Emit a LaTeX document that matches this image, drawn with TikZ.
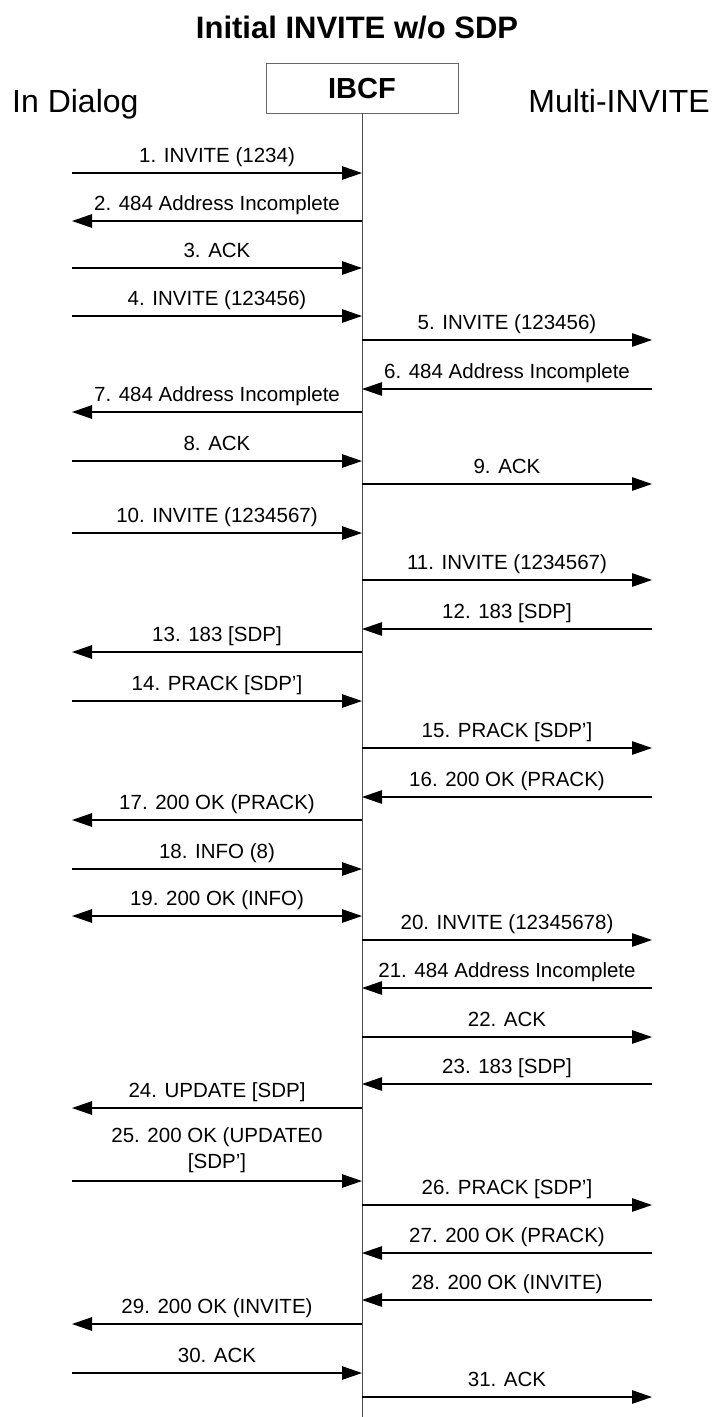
\documentclass[tikz,border=0pt]{standalone}
\usepackage{fontspec}
\setmainfont{Liberation Sans}
\usetikzlibrary{arrows.meta}
\tikzset{
  msg/.style={line width=1.1pt, black},
  fwd/.style={-{Triangle[length=20pt,width=13.5pt]}},
  bwd/.style={{Triangle[length=20pt,width=13.5pt]}-},
  bidi/.style={{Triangle[length=20pt,width=13.5pt]}-{Triangle[length=20pt,width=13.5pt]}},
  lbl/.style={font=\fontsize{20.5}{26}\selectfont, inner sep=0pt},
  actor/.style={font=\fontsize{32}{36}\selectfont, inner sep=0pt},
  lifeline/.style={line width=1pt, black!70},
}
\begin{document}
\begin{tikzpicture}[x=1pt,y=-1pt]
\useasboundingbox (0,0) rectangle (712,1417);
\node[font=\bfseries\fontsize{31}{34}\selectfont, anchor=base, inner sep=0pt] (title) at (357,38.5) {Initial INVITE w/o SDP};
\node[draw=black!60, line width=0.8pt, minimum width=192pt, minimum height=50pt, inner sep=0pt] (ibcf) at (362,88) {};
\node[font=\bfseries\fontsize{29}{34}\selectfont, anchor=base, inner sep=0pt] (ibcftext) at (362,98.5) {IBCF};
\node[actor, anchor=base west] (dialog) at (12,112) {In Dialog};
\node[actor, anchor=base east] (multi) at (710,112) {Multi-INVITE};
\coordinate (lifeend) at (362,1417);
\draw[lifeline] (ibcf.south) -- (lifeend);
\foreach \n/\y/\xa/\tip/\txt in {
  1/173/72/fwd/{1. INVITE (1234)},
  2/221/72/bwd/{2. 484 Address Incomplete},
  3/268/72/fwd/{3. ACK},
  4/316/72/fwd/{4. INVITE (123456)},
  5/340/362/fwd/{5. INVITE (123456)},
  6/389/362/bwd/{6. 484 Address Incomplete},
  7/412/72/bwd/{7. 484 Address Incomplete},
  8/461/72/fwd/{8. ACK},
  9/484/362/fwd/{9. ACK},
  10/533/72/fwd/{10. INVITE (1234567)},
  11/580/362/fwd/{11. INVITE (1234567)},
  12/629/362/bwd/{12. 183 [SDP]},
  13/652/72/bwd/{13. 183 [SDP]},
  14/701/72/fwd/{14. PRACK [SDP']},
  15/748/362/fwd/{15. PRACK [SDP']},
  16/797/362/bwd/{16. 200 OK (PRACK)},
  17/820/72/bwd/{17. 200 OK (PRACK)},
  18/869/72/fwd/{18. INFO (8)},
  19/916/72/bidi/{19. 200 OK (INFO)},
  20/940/362/fwd/{20. INVITE (12345678)},
  21/988/362/bwd/{21. 484 Address Incomplete},
  22/1037/362/fwd/{22. ACK},
  23/1084/362/bwd/{23. 183 [SDP]},
  24/1108/72/bwd/{24. UPDATE [SDP]},
  26/1205/362/fwd/{26. PRACK [SDP']},
  27/1253/362/bwd/{27. 200 OK (PRACK)},
  28/1300/362/bwd/{28. 200 OK (INVITE)},
  29/1324/72/bwd/{29. 200 OK (INVITE)},
  30/1373/72/fwd/{30. ACK},
  31/1397/362/fwd/{31. ACK}}{
  \pgfmathsetmacro\xb{\xa+290}
  \coordinate (a\n) at (\xa,\y);
  \coordinate (b\n) at (\xb,\y);
  \draw[msg,\tip] (a\n) -- (b\n) node[lbl, midway, anchor=base, yshift=11pt] (t\n) {\txt};
}
\coordinate (a25) at (72,1181);
\coordinate (b25) at (362,1181);
\draw[msg,fwd] (a25) -- (b25) node[lbl, midway, anchor=south, yshift=8pt, align=center] (t25) {25. 200 OK (UPDATE0\\{}[SDP']};
\end{tikzpicture}
\end{document}
